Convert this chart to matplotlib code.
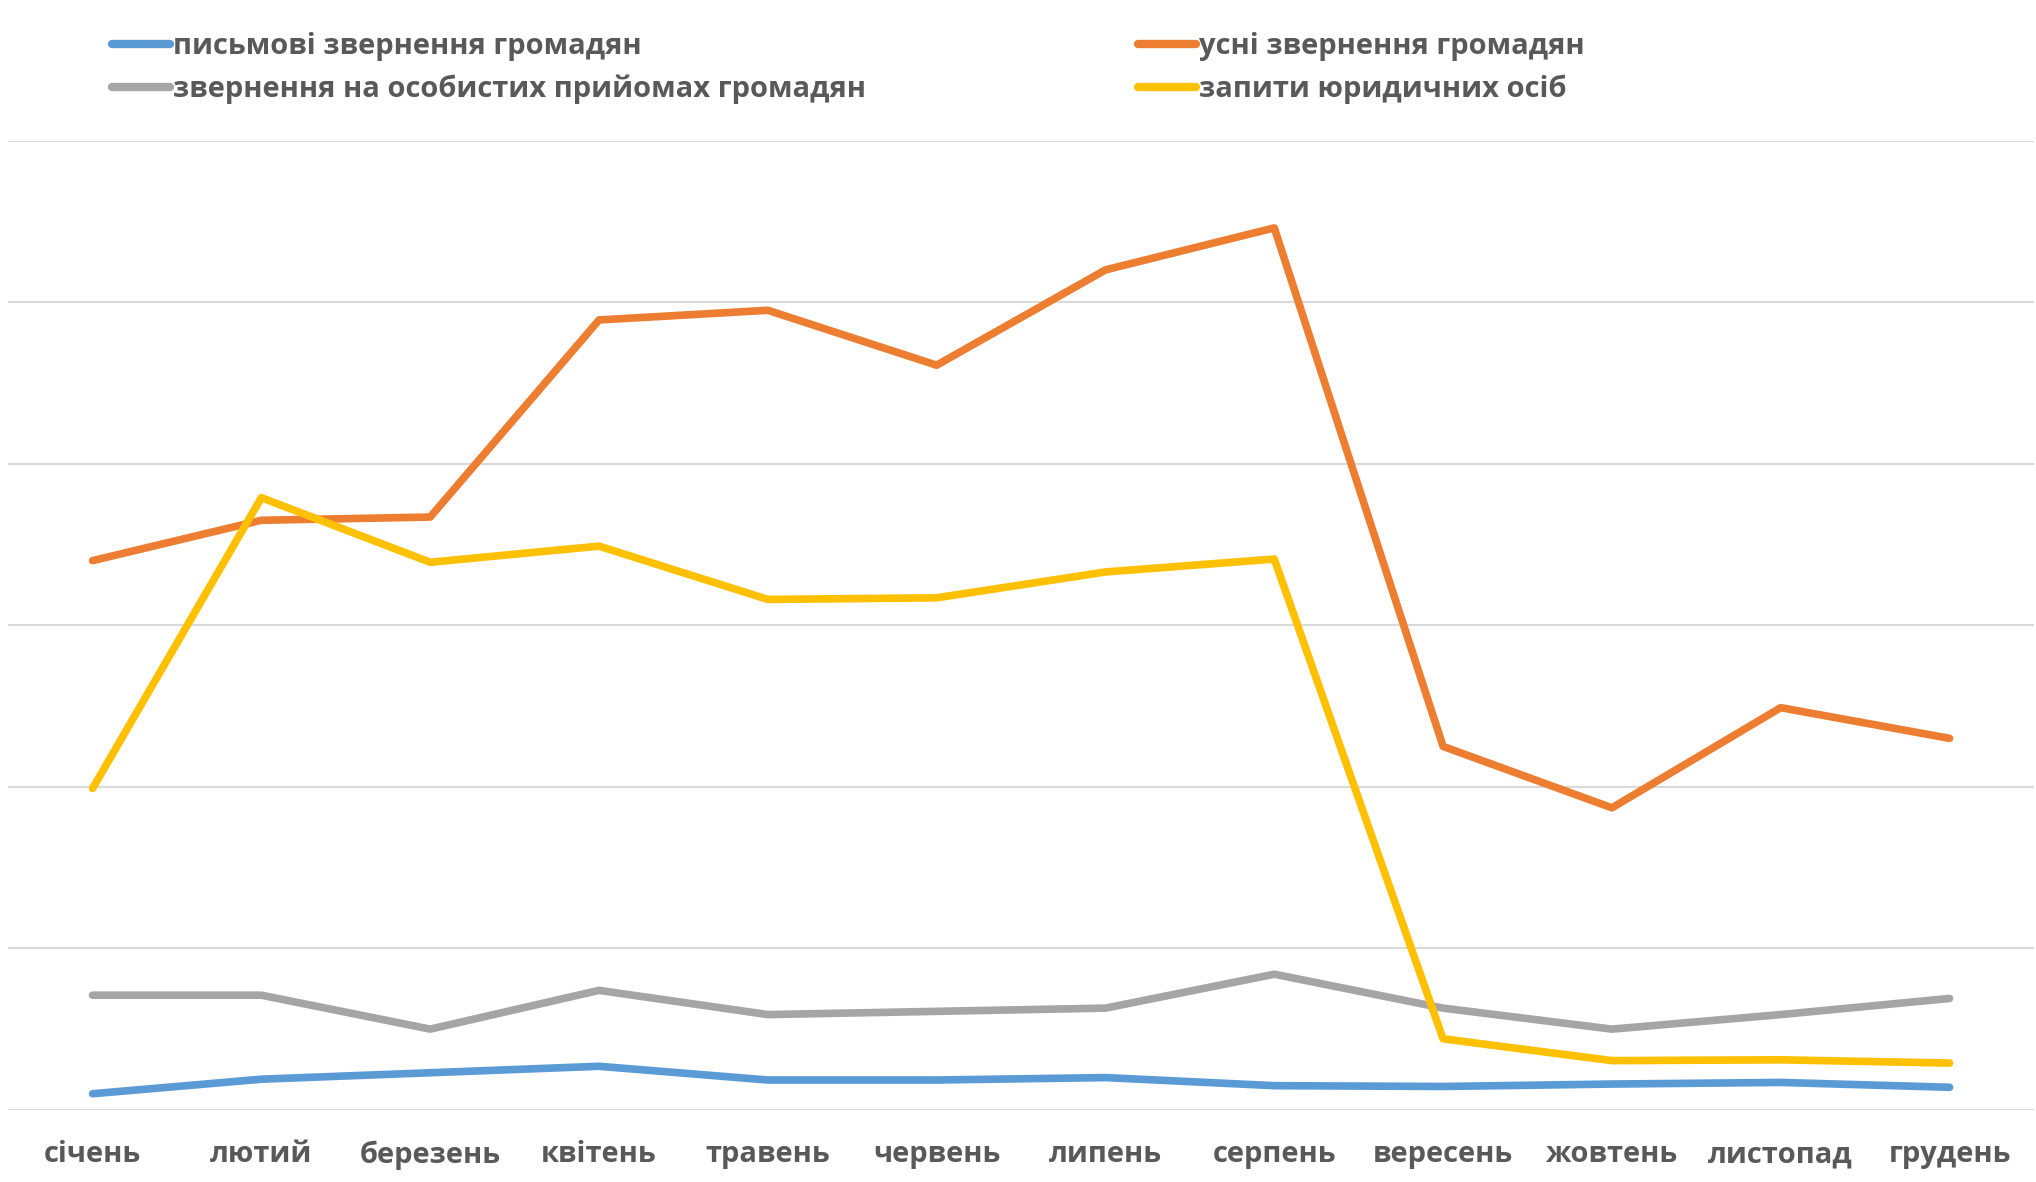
import matplotlib.pyplot as plt
from matplotlib.lines import Line2D

months = ["січень", "лютий", "березень", "квітень", "травень", "червень",
          "липень", "серпень", "вересень", "жовтень", "листопад", "грудень"]

written = [10, 19, 23, 27, 18.5, 18.5, 20, 15, 14.5, 16, 17, 14]
oral = [340, 365, 367, 489, 495, 461, 520, 546, 225, 187, 249, 230]
personal = [71, 71, 50, 74, 59, 61, 63, 84, 63, 50, 59, 69]
legal = [199, 379, 339, 349, 316, 317, 333, 341, 44, 30.5, 31, 29]

names = ["письмові звернення громадян", "усні звернення громадян",
         "звернення на особистих прийомах громадян", "запити юридичних осіб"]
colors = ["#5B9BD5", "#ED7D31", "#A5A5A5", "#FFC000"]

plt.rcParams['font.family'] = ['Open Sans', 'DejaVu Sans']
text_color = "#595959"

fig = plt.figure(figsize=(20.36, 11.82), dpi=100)
ax = fig.add_axes([0.004, 0.061, 0.995, 0.82])

x = range(len(months))
for vals, c in zip([written, oral, personal, legal], colors):
    ax.plot(x, vals, color=c, lw=5.5, solid_capstyle='round', zorder=3)

ax.set_xlim(-0.5, len(months) - 0.5)
ax.set_ylim(0, 600)
ax.set_yticks(range(0, 601, 100))
ax.set_yticklabels([])
ax.tick_params(axis='y', length=0)
ax.grid(axis='y', color="#D9D9D9", lw=1.5)
ax.set_xticks(list(x))
ax.set_xticklabels(months, fontsize=21, fontweight='bold', color=text_color)
ax.tick_params(axis='x', length=0, pad=22)
for s in ax.spines.values():
    s.set_visible(False)

handles = [Line2D([], [], color=c, lw=6, solid_capstyle='round') for c in colors]
leg1 = fig.legend([handles[0], handles[2]], [names[0], names[2]],
                  loc='upper left', bbox_to_anchor=(0.042, 0.995), frameon=False,
                  fontsize=21, handlelength=2.0, handletextpad=0.1, labelspacing=0.45)
leg2 = fig.legend([handles[1], handles[3]], [names[1], names[3]],
                  loc='upper left', bbox_to_anchor=(0.546, 0.995), frameon=False,
                  fontsize=21, handlelength=2.0, handletextpad=0.1, labelspacing=0.45)
for leg in (leg1, leg2):
    for t in leg.get_texts():
        t.set_color(text_color)
        t.set_fontweight('bold')

fig.savefig("out.png", dpi=100)
